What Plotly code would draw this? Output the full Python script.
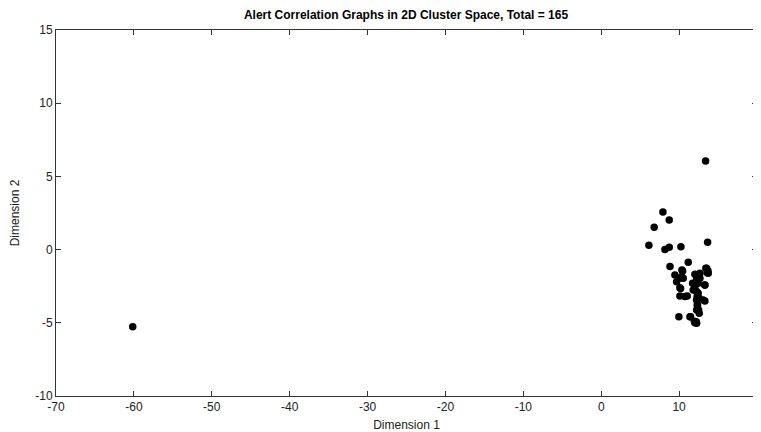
import plotly.graph_objects as go

# points (dimension 1, dimension 2)
dim1 = [
    -60.15,
    13.4, 7.92, 8.73, 6.8, 13.66, 6.12, 8.18, 8.73, 10.23,
    11.17, 8.83, 10.36, 9.46, 10.32, 9.68, 10.1, 10.45, 10.53,
    12.16, 12.58, 12.03, 12.67, 13.44, 13.53, 13.6, 13.74, 13.7,
    11.73, 12.45, 12.25, 12.67, 13.3, 13.31, 10.1, 10.19, 11.81,
    12.03, 12.24, 12.45, 10.1, 11.04, 10.74, 12.32, 12.55, 12.24,
    13.09, 13.31, 12.37, 12.32, 12.5, 12.25, 12.58, 9.97, 11.47,
    11.39, 12.03, 12.2, 11.96, 12.25,
]
dim2 = [
    -5.27,
    6.05, 2.57, 2.02, 1.52, 0.5, 0.29, 0.0, 0.16, 0.2,
    -0.87, -1.16, -1.39, -1.73, -1.85, -2.19, -1.96, -1.46, -1.96,
    -1.73, -1.85, -1.69, -1.62, -1.28, -1.28, -1.58, -1.62, -1.44,
    -2.3, -2.3, -2.08, -1.96, -2.42, -2.42, -2.6, -2.65, -2.76,
    -2.53, -2.87, -2.99, -3.17, -3.17, -3.21, -3.2, -3.3, -3.44,
    -3.44, -3.51, -3.83, -3.78, -4.13, -4.13, -4.35, -4.58, -4.58,
    -4.58, -4.99, -4.93, -4.9, -5.03,
]
total = 165

x_ticks = [-70, -60, -50, -40, -30, -20, -10, 0, 10, 20]
y_ticks = [-10, -5, 0, 5, 10, 15]

font = "Liberation Sans, Arial"

fig = go.Figure()
fig.add_trace(
    go.Scatter(
        x=dim1,
        y=dim2,
        mode="markers",
        marker=dict(color="black", size=7.5, symbol="circle"),
        showlegend=False,
    )
)

axis_style = dict(
    showgrid=False,
    zeroline=False,
    showline=True,
    linecolor="#333333",
    linewidth=1,
    mirror="ticks",
    ticks="inside",
    ticklen=5,
    tickcolor="#333333",
    tickfont=dict(family=font, size=12, color="#222222"),
    automargin=False,
)

fig.update_xaxes(
    range=[-70, 20],
    tickvals=x_ticks, ticktext=[str(v) for v in x_ticks],
    title=dict(text="Dimension 1", font=dict(family=font, size=12, color="#222222")),
    **axis_style,
)
fig.update_yaxes(
    range=[-10, 15],
    tickvals=y_ticks, ticktext=[str(v) for v in y_ticks],
    title=dict(text="Dimension 2", font=dict(family=font, size=12, color="#222222")),
    **axis_style,
)

# page body has an 8px margin, so the figure is sized to fit the window from there
fig.update_layout(
    width=753,
    height=424,
    title=dict(
        text=f"<b>Alert Correlation Graphs in 2D Cluster Space, Total = {total}</b>",
        x=0.5286, xanchor="center", y=0.983, yanchor="middle",
        font=dict(family=font, size=12, color="black"),
    ),
    margin=dict(l=48, r=4, t=22, b=36),
    paper_bgcolor="white",
    plot_bgcolor="white",
)

fig.write_html("out.html")
